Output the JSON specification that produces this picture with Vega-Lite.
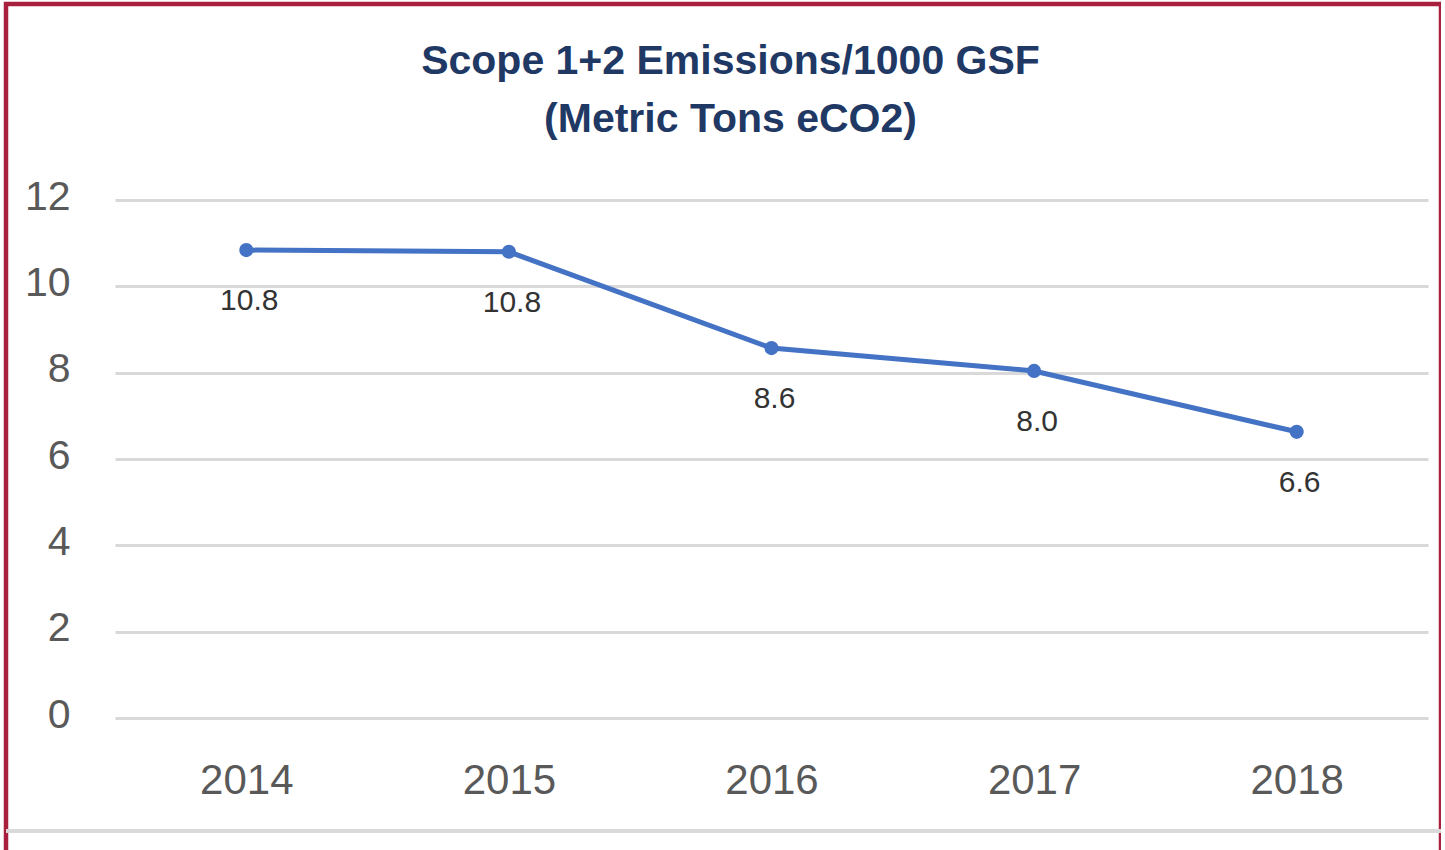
{
  "$schema": "https://vega.github.io/schema/vega-lite/v6.json",
  "autosize": "none",
  "padding": {"left": 6, "top": 4, "right": 0, "bottom": 0},
  "width": 1435,
  "height": 880,
  "background": "white",
  "title": {
    "text": ["Scope 1+2 Emissions/1000 GSF", "(Metric Tons eCO2)"],
    "anchor": "middle",
    "frame": "group",
    "offset": -169,
    "baseline": "alphabetic",
    "lineHeight": 58,
    "dx": 7,
    "font": "Liberation Sans",
    "fontSize": 41,
    "fontWeight": "bold",
    "color": "#1F3864"
  },
  "data": {
    "values": [
      {"year": "2014", "value": 10.84},
      {"year": "2015", "value": 10.8},
      {"year": "2016", "value": 8.57},
      {"year": "2017", "value": 8.04},
      {"year": "2018", "value": 6.63}
    ]
  },
  "layer": [
    {
      "mark": {"type": "rule", "color": "#D9D9D9", "strokeWidth": 3},
      "encoding": {
        "y": {"datum": -2.62, "type": "quantitative", "scale": {"domain": [0, 12], "range": [714, 196], "nice": false, "zero": false}, "axis": {"title": null, "values": [0, 2, 4, 6, 8, 10, 12], "format": "d"}}
      }
    },
    {
      "mark": {"type": "line", "color": "#4472C4", "strokeWidth": 5, "point": {"filled": true, "size": 200, "color": "#4472C4"}},
      "encoding": {
        "x": {"field": "year", "type": "ordinal", "scale": {"type": "point", "range": [109, 1422], "padding": 0.5}, "axis": {"title": null, "labelAngle": 0}},
        "y": {"field": "value", "type": "quantitative", "axis": {"title": null, "values": [0, 2, 4, 6, 8, 10, 12], "format": "d"}}
      }
    },
    {
      "mark": {"type": "text", "dy": 60, "dx": 3, "baseline": "alphabetic", "align": "center", "font": "Liberation Sans", "fontSize": 30, "color": "#333333"},
      "encoding": {
        "x": {"field": "year", "type": "ordinal"},
        "y": {"field": "value", "type": "quantitative"},
        "text": {"field": "value", "type": "quantitative", "format": ".1f"}
      }
    }
  ],
  "config": {
    "view": {"stroke": "#A8203D", "strokeWidth": 4.5},
    "axis": {"domain": false, "ticks": false, "tickSize": 0, "labelFont": "Liberation Sans", "labelColor": "#595959", "gridColor": "#D9D9D9", "gridWidth": 3, "labelOverlap": false},
    "axisX": {"grid": false, "labelFontSize": 42, "labelBaseline": "alphabetic", "labelPadding": 0, "offset": -91},
    "axisY": {"grid": true, "labelFontSize": 41, "labelPadding": -64, "labelOffset": -3}
  }
}
